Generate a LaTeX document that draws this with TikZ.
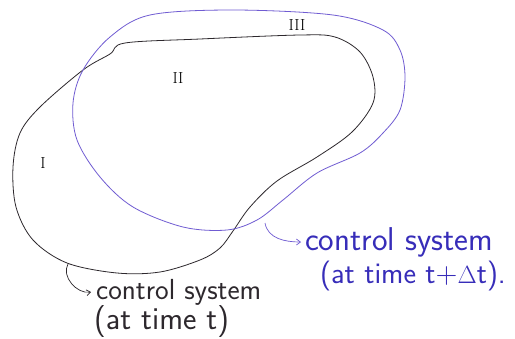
\documentclass[tikz,border=0pt]{standalone}
\usepackage{fontspec}
\usetikzlibrary{arrows.meta}
\definecolor{sysblue}{RGB}{112,92,210}
\definecolor{txtblue}{RGB}{55,45,185}
\definecolor{sysblack}{RGB}{45,40,45}
\tikzset{
  blackline/.style={draw=sysblack, line width=0.8pt},
  blueline/.style={draw=sysblue, line width=0.8pt},
  lbl/.style={font=\sffamily\fontsize{#1}{34}\selectfont, inner sep=0pt, anchor=west},
  lbl/.default=29,
  roman/.style={font=\fontsize{16}{16}\selectfont, inner sep=0pt},
  tip/.style={-{Straight Barb[length=4pt,width=6pt]}, line width=0.7pt}
}
\begin{document}
\begin{tikzpicture}[x=1pt,y=-1pt]
\useasboundingbox[fill=white] (0,0) rectangle (515,338);
% control system at time t (black)
\draw[blackline] plot[smooth cycle, tension=0.55] coordinates {
 (125,43) (200,39) (300,35) (335,37) (360,52) (373,77) (373,103)
 (352,132) (317,157) (277,181) (250,207) (233,231) (220,248) (200,260)
 (160,272) (117,273) (67,263) (33,240) (16,207) (13,167) (20,133)
 (40,107) (83,70) (110,54)};
% control system at time t+dt (blue)
\draw[blueline] plot[smooth cycle, tension=0.55] coordinates {
 (150,15) (233,10) (333,15) (383,30) (400,50) (405,77) (400,110)
 (383,133) (360,153) (317,173) (283,200) (257,220) (227,230)
 (183,227) (133,207) (100,177) (77,140) (73,103) (83,70) (110,37)};
% region labels
\node[roman] (r3) at (297,25) {III};
\node[roman] (r2) at (178,78) {II};
\node[roman] (r1) at (43,163) {I};
% texts
\node[lbl=33, text=txtblue] (b1) at (305,242) {control system};
\node[lbl=30, text=txtblue] (b2) at (320,276) {(at time t+$\Delta$t).};
\node[lbl=29, text=sysblack] (k1) at (96,292) {control system};
\node[lbl=32, text=sysblack] (k2) at (94,322) {(at time t)};
% pointers
\coordinate (bs) at (265,223);
\coordinate (ks) at (68,264);
\draw[tip, draw=sysblue] (bs) to[out=-80, in=180] ([xshift=-4pt]b1.west);
\draw[tip, draw=sysblack] (ks) to[out=-120, in=190] ([xshift=-5pt]k1.west);
\end{tikzpicture}
\end{document}
